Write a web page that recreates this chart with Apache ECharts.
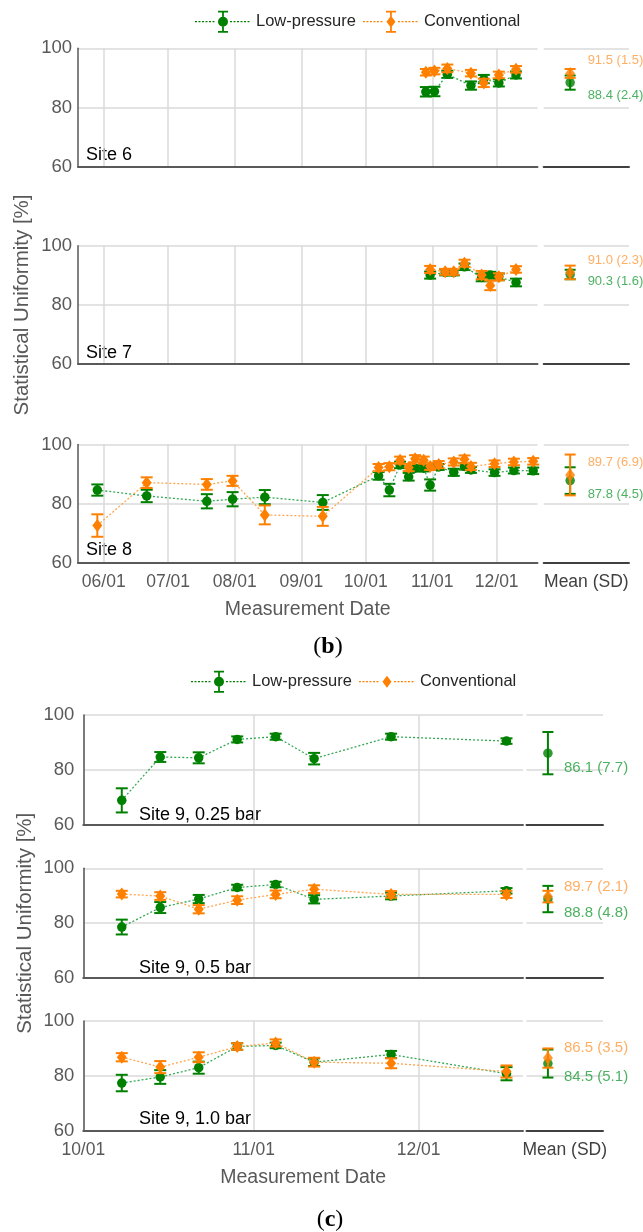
<!DOCTYPE html>
<html>
<head>
<meta charset="utf-8">
<script src="https://cdn.jsdelivr.net/npm/echarts@6/dist/echarts.min.js"></script>
<style>
html, body { margin: 0; padding: 0; background: #fff; }
#chart { width: 643px; height: 1232px; }
</style>
</head>
<body>
<div id="chart"></div>
<script>
// ---------- data ----------
const seriesNames = ['Low-pressure', 'Conventional'];
const monthTicksB = ['06/01', '07/01', '08/01', '09/01', '10/01', '11/01', '12/01'];
const monthTicksC = ['10/01', '11/01', '12/01'];
const siteLabelsB = ['Site 6', 'Site 7', 'Site 8'];
const siteLabelsC = ['Site 9, 0.25 bar', 'Site 9, 0.5 bar', 'Site 9, 1.0 bar'];

// Site 6
const site6Dates = ['10/29', '11/02', '11/08', '11/19', '11/25', '12/02', '12/10'];
const site6Low = [85.3, 85.4, 91.2, 87.4, 89.6, 88.3, 91.0];
const site6LowSd = [1.6, 1.6, 1.2, 1.4, 1.4, 1.2, 1.2];
const site6Conv = [91.9, 92.3, 93.2, 91.6, 88.3, 91.0, 92.9];
const site6ConvSd = [1.1, 1.1, 1.3, 1.1, 1.4, 1.1, 1.1];

// Site 7
const site7Dates = ['10/31', '11/07', '11/11', '11/16', '11/24', '11/28', '12/02', '12/10'];
const site7Low = [90.1, 91.0, 91.0, 92.9, 89.3, 90.1, 89.5, 87.6];
const site7LowSd = [1.2, 1.0, 1.0, 1.1, 1.3, 1.1, 1.1, 1.3];
const site7Conv = [92.0, 91.2, 91.2, 94.1, 90.1, 86.6, 89.5, 92.0];
const site7ConvSd = [1.2, 1.0, 1.0, 1.2, 1.4, 1.6, 1.2, 1.1];

// Site 8
const site8Dates = ['05/29', '06/21', '07/19', '07/31', '08/15', '09/11', '10/07', '10/12', '10/17', '10/21',
                    '10/24', '10/28', '10/31', '11/04', '11/11', '11/16', '11/19', '11/30', '12/09', '12/18'];
const site8Low = [84.6, 82.6, 80.8, 81.5, 82.2, 80.4, 89.4, 84.6, 93.1, 89.1,
                  92.0, 92.0, 86.3, 92.4, 90.6, 92.6, 91.4, 90.5, 91.2, 91.1];
const site8LowSd = [1.9, 2.1, 2.4, 2.4, 2.4, 2.5, 1.3, 2.1, 1.1, 1.3,
                    1.1, 1.1, 1.9, 1.0, 1.2, 1.1, 1.0, 1.1, 1.0, 1.1];
const site8Conv = [72.6, 87.1, 86.5, 87.7, 76.2, 75.7, 92.2, 92.5, 94.7, 92.2,
                   95.2, 94.7, 92.6, 93.2, 94.1, 95.0, 92.6, 93.5, 94.1, 94.3];
const site8ConvSd = [3.8, 1.8, 1.8, 1.7, 3.2, 3.2, 1.2, 1.2, 1.2, 1.2,
                     1.2, 1.2, 1.2, 1.2, 1.2, 1.3, 1.2, 1.1, 1.1, 1.1];

// Site 9
const site9Dates = ['10/08', '10/15', '10/22', '10/29', '11/05', '11/12', '11/26', '12/17'];
const site9Low025 = [68.9, 84.7, 84.4, 91.1, 92.1, 84.1, 92.1, 90.5];
const site9Low025Sd = [4.4, 1.8, 2.0, 1.1, 1.1, 2.1, 1.1, 1.0];
const site9Low05 = [78.6, 85.7, 88.8, 93.0, 94.1, 88.7, 89.9, 91.8];
const site9Low05Sd = [2.7, 2.0, 1.5, 1.0, 1.0, 1.5, 1.2, 1.0];
const site9Conv05 = [90.6, 89.9, 85.1, 88.4, 90.5, 92.4, 90.5, 90.5];
const site9Conv05Sd = [1.2, 1.4, 1.5, 1.4, 1.4, 1.4, 1.2, 1.3];
const site9Low10 = [77.4, 79.6, 83.0, 90.7, 91.1, 85.0, 87.8, 80.8];
const site9Low10Sd = [3.0, 2.5, 2.2, 1.2, 1.0, 1.4, 1.3, 2.4];
const site9Conv10 = [86.8, 83.2, 86.8, 90.7, 92.0, 85.0, 84.6, 81.6];
const site9Conv10Sd = [1.5, 2.2, 1.8, 1.2, 1.3, 1.6, 1.8, 2.2];

// Mean (SD) per panel
const meanLowB = [88.4, 90.3, 87.8];
const sdLowB = [2.4, 1.6, 4.5];
const meanConvB = [91.5, 91.0, 89.7];
const sdConvB = [1.5, 2.3, 6.9];
const meanLowC = [86.1, 88.8, 84.5];
const sdLowC = [7.7, 4.8, 5.1];
const meanConvC = [null, 89.7, 86.5];
const sdConvC = [null, 2.1, 3.5];

// ---------- styles ----------
const FONT = '"Liberation Sans", Arial, sans-serif';
const SERIF = '"Liberation Serif", "DejaVu Serif", serif';
const GREEN = '#008000', GREEN_LINE = '#34a853', GREEN_TEXT = '#1f9d3a';
const ORANGE = '#ff8000', ORANGE_LINE = '#ffa54f', ORANGE_TEXT = '#ff9b3d';
const AXIS = '#595959', GRID = '#dadada';

const YEAR = 2021;
function dayNum(md) {
  const [m, d] = md.split('/').map(Number);
  return (Date.UTC(YEAR, m - 1, d) - Date.UTC(YEAR, 0, 1)) / 864e5;
}
function mdLabel(v) {
  const dt = new Date(Date.UTC(YEAR, 0, 1) + Math.round(v) * 864e5);
  const p = n => String(n).padStart(2, '0');
  return p(dt.getUTCMonth() + 1) + '/' + p(dt.getUTCDate());
}

// layout of the two figure parts
const layoutB = {
  mainLeft: 78, mainWidth: 459.5, meanLeft: 543.7, meanWidth: 85.3,
  tops: [48.3, 245.8, 444.5], height: 118.3,
  xMin: '05/20', xMax: '12/20', ticks: monthTicksB,
  meanX: 0.31, labelDx: 17.5, meanFont: 13,
  labelDy: [[12.4, -13.5], [7, -12], [13.4, -13]],
  yLabelMargin: 6, yNameGap: 45, siteX: 86, siteY: [12, 11.5, 13],
  tagText: 'b', tagX: 328, tagY: 647,
  legendLeft: 195, legendTop: 10.7, convBar: true
};
const layoutC = {
  mainLeft: 83.3, mainWidth: 439.7, meanLeft: 526.5, meanWidth: 76.5,
  tops: [715, 868.3, 1021], height: 109.8,
  xMin: '10/01', xMax: '12/20', ticks: monthTicksC,
  meanX: 0.28, labelDx: 16, meanFont: 15,
  labelDy: [[15, 0], [14, -10], [13, -10]],
  yLabelMargin: 9, yNameGap: 47, siteX: 139, siteY: [10, 10.5, 12],
  tagText: 'c', tagX: 330, tagY: 1220,
  legendLeft: 191, legendTop: 670.7, convBar: false
};

const panelsB = [
  { dates: site6Dates, low: site6Low, lowSd: site6LowSd, conv: site6Conv, convSd: site6ConvSd },
  { dates: site7Dates, low: site7Low, lowSd: site7LowSd, conv: site7Conv, convSd: site7ConvSd },
  { dates: site8Dates, low: site8Low, lowSd: site8LowSd, conv: site8Conv, convSd: site8ConvSd }
];
const panelsC = [
  { dates: site9Dates, low: site9Low025, lowSd: site9Low025Sd, conv: null, convSd: null },
  { dates: site9Dates, low: site9Low05, lowSd: site9Low05Sd, conv: site9Conv05, convSd: site9Conv05Sd },
  { dates: site9Dates, low: site9Low10, lowSd: site9Low10Sd, conv: site9Conv10, convSd: site9Conv10Sd }
];

// ---------- builders ----------
function errorBarItem(color, capW) {
  return function (params, api) {
    const x = api.value(0);
    const top = api.coord([x, api.value(2)]);
    const bot = api.coord([x, api.value(1)]);
    const h = capW / 2;
    const st = { stroke: color, lineWidth: 2, fill: null };
    return {
      type: 'group',
      children: [
        { type: 'line', shape: { x1: top[0], y1: top[1], x2: bot[0], y2: bot[1] }, style: st },
        { type: 'line', shape: { x1: top[0] - h, y1: top[1], x2: top[0] + h, y2: top[1] }, style: st },
        { type: 'line', shape: { x1: bot[0] - h, y1: bot[1], x2: bot[0] + h, y2: bot[1] }, style: st }
      ]
    };
  };
}

const grids = [], xAxes = [], yAxes = [], series = [], graphics = [], legends = [];
const tickText = { fontFamily: FONT, color: AXIS };

function legendIconPath(marker, bar) {
  let p = 'M0,0h0.01v0.01h-0.01z M55.99,21.99h0.01v0.01h-0.01z ';
  for (let x = 0; x < 56; x += 3.5) {
    if (x > 19 && x < 35) continue;
    p += 'M' + x + ',10.4h2v1.2h-2z ';
  }
  if (bar) {
    p += 'M23,0h10v1.8h-10z M23,20.2h10v1.8h-10z M27.1,1.8h1.8v4.2h-1.8z M27.1,16h1.8v4.2h-1.8z ';
  }
  p += marker === 'circle'
    ? 'M23,11a5,5 0 1,1 10,0a5,5 0 1,1 -10,0z'
    : 'M28,5L32.5,11L28,17L23.5,11z';
  return 'path://' + p;
}

function addPart(L, panels, meanLow, sdLow, meanConv, sdConv, siteLabels) {
  legends.push({
    left: L.legendLeft, top: L.legendTop, padding: 0, itemWidth: 56, itemHeight: 22, itemGap: 7,
    selectedMode: false,
    textStyle: { fontFamily: FONT, fontSize: 16.5, color: '#262626' },
    data: [
      { name: seriesNames[0], icon: legendIconPath('circle', true), itemStyle: { color: GREEN, borderWidth: 0 } },
      { name: seriesNames[1], icon: legendIconPath('diamond', L.convBar), itemStyle: { color: ORANGE, borderWidth: 0 } }
    ]
  });

  panels.forEach((P, r) => {
    const last = r === panels.length - 1;
    const gi = grids.length;
    grids.push({ left: L.mainLeft, top: L.tops[r], width: L.mainWidth, height: L.height, outerBoundsMode: 'none' });
    grids.push({ left: L.meanLeft, top: L.tops[r], width: L.meanWidth, height: L.height, outerBoundsMode: 'none' });
    const ticks = L.ticks.map(dayNum);

    // main time axis
    xAxes.push({
      type: 'value', gridIndex: gi, min: dayNum(L.xMin), max: dayNum(L.xMax),
      axisLine: { show: true, onZero: false, lineStyle: { color: AXIS, width: 2 } },
      axisTick: { show: false, customValues: ticks },
      axisLabel: { show: last, customValues: ticks, formatter: mdLabel, fontSize: 17.5, margin: 10, ...tickText },
      splitLine: { show: true, lineStyle: { color: GRID, width: 1.5 } },
      name: last ? 'Measurement Date' : '', nameLocation: 'middle', nameGap: 37, nameMoveOverlap: false,
      nameTextStyle: { fontFamily: FONT, fontSize: 19.5, color: AXIS }
    });
    // mean column axis
    xAxes.push({
      type: 'value', gridIndex: gi + 1, min: 0, max: 1,
      axisLine: { show: true, onZero: false, lineStyle: { color: '#404040', width: 2 } },
      axisTick: { show: false }, axisLabel: { show: false }, splitLine: { show: false },
      name: last ? 'Mean (SD)' : '', nameLocation: 'middle', nameGap: 10, nameMoveOverlap: false,
      nameTextStyle: { fontFamily: FONT, fontSize: 17.5, color: '#404040' }
    });
    yAxes.push({
      type: 'value', gridIndex: gi, min: 60, max: 100, interval: 20,
      axisLine: { show: true, lineStyle: { color: AXIS, width: 1.5 } },
      axisTick: { show: false },
      axisLabel: { fontSize: 18.5, margin: L.yLabelMargin, ...tickText },
      splitLine: { show: true, lineStyle: { color: GRID, width: 1.5 } },
      name: r === 1 ? 'Statistical Uniformity [%]' : '', nameLocation: 'middle', nameGap: L.yNameGap,
      nameMoveOverlap: false,
      nameTextStyle: { fontFamily: FONT, fontSize: 20.5, color: AXIS }
    });
    yAxes.push({
      type: 'value', gridIndex: gi + 1, min: 60, max: 100, interval: 20,
      axisLine: { show: false }, axisTick: { show: false }, axisLabel: { show: false },
      splitLine: { show: true, lineStyle: { color: GRID, width: 1.5 } }
    });

    const groups = [
      { name: seriesNames[0], vals: P.low, sds: P.lowSd, mean: meanLow[r], sd: sdLow[r], color: GREEN,
        line: GREEN_LINE, text: GREEN_TEXT, symbol: 'circle', size: 9.5, z: 2, dy: L.labelDy[r][0] },
      { name: seriesNames[1], vals: P.conv, sds: P.convSd, mean: meanConv[r], sd: sdConv[r], color: ORANGE,
        line: ORANGE_LINE, text: ORANGE_TEXT, symbol: 'diamond', size: [10, 13], z: 4, dy: L.labelDy[r][1] }
    ];
    groups.forEach(g => {
      if (g.vals) {
        series.push({
          type: 'custom', name: g.name, xAxisIndex: gi, yAxisIndex: gi, z: g.z, silent: true,
          encode: { x: 0, y: [1, 2] },
          data: g.vals.map((v, i) => [dayNum(P.dates[i]), v - g.sds[i], v + g.sds[i]]),
          renderItem: errorBarItem(g.color, 12)
        });
        series.push({
          type: 'line', name: g.name, xAxisIndex: gi, yAxisIndex: gi, z: g.z + 1, silent: true,
          data: g.vals.map((v, i) => [dayNum(P.dates[i]), v]),
          symbol: g.symbol, symbolSize: g.size, showAllSymbol: true,
          itemStyle: { color: g.color },
          lineStyle: { color: g.line, width: 1.3, type: [2, 2] }
        });
      }
      if (g.mean != null) {
        series.push({
          type: 'custom', name: g.name, xAxisIndex: gi + 1, yAxisIndex: gi + 1, z: g.z, silent: true,
          encode: { x: 0, y: [1, 2] },
          data: [[L.meanX, g.mean - g.sd, g.mean + g.sd]],
          renderItem: errorBarItem(g.color, 11)
        });
        const sz = Array.isArray(g.size) ? g.size[0] : g.size;
        series.push({
          type: 'scatter', name: g.name, xAxisIndex: gi + 1, yAxisIndex: gi + 1, z: g.z + 1, silent: true,
          data: [[L.meanX, g.mean, g.sd]],
          symbol: g.symbol, symbolSize: g.size, itemStyle: { color: g.color },
          label: {
            show: true, position: 'right', distance: L.labelDx - sz / 2, offset: [0, g.dy],
            formatter: p => p.data[1].toFixed(1) + ' (' + p.data[2].toFixed(1) + ')',
            fontFamily: FONT, fontSize: L.meanFont, color: g.text
          }
        });
      }
    });

    graphics.push({
      type: 'text', x: L.siteX, y: L.tops[r] + L.height - L.siteY[r], silent: true,
      style: { text: siteLabels[r], fill: '#000', fontFamily: FONT, fontSize: 18, align: 'left', verticalAlign: 'middle' }
    });
  });

  graphics.push({
    type: 'text', x: L.tagX, y: L.tagY, silent: true,
    style: {
      text: '{p|(}{b|' + L.tagText + '}{p|)}', align: 'center', verticalAlign: 'middle',
      rich: {
        p: { fontFamily: SERIF, fontSize: 24, fill: '#000' },
        b: { fontFamily: SERIF, fontSize: 24, fontWeight: 'bold', fill: '#000' }
      }
    }
  });
}

addPart(layoutB, panelsB, meanLowB, sdLowB, meanConvB, sdConvB, siteLabelsB);
addPart(layoutC, panelsC, meanLowC, sdLowC, meanConvC, sdConvC, siteLabelsC);

const chart = echarts.init(document.getElementById('chart'), null, { renderer: 'canvas' });
chart.setOption({
  animation: false,
  backgroundColor: '#fff',
  legend: legends,
  grid: grids,
  xAxis: xAxes,
  yAxis: yAxes,
  series: series,
  graphic: graphics
});
</script>
</body>
</html>
